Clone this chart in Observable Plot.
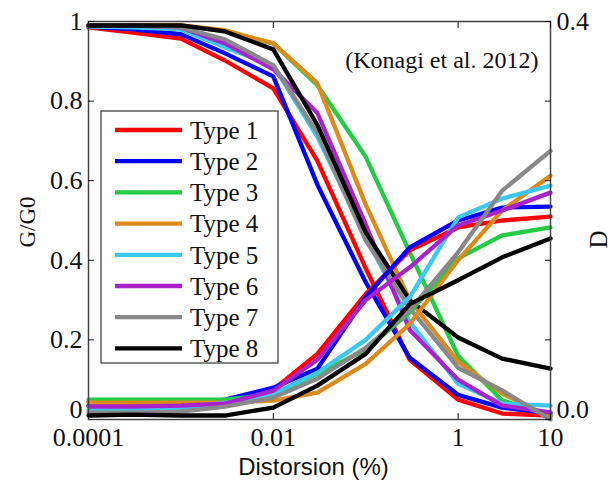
<!DOCTYPE html>
<html><head><meta charset="utf-8">
<script src="https://cdn.jsdelivr.net/npm/d3@7"></script>
<script src="https://cdn.jsdelivr.net/npm/@observablehq/plot@0.6"></script>
<style>
body{margin:0;background:#fff}
#chart{position:relative;width:610px;height:489px}
</style>
</head><body><div id="chart"></div>
<script>
// shear strain (%) sample points
const strain = [0.0001, 0.0003, 0.001, 0.003, 0.01, 0.03, 0.1, 0.3, 1, 3, 10];
const types = ["Type 1","Type 2","Type 3","Type 4","Type 5","Type 6","Type 7","Type 8"];
const colors = ["#ff0000","#0000ff","#22cc44","#dc8a1c","#3cc8f2","#aa22cc","#888888","#000000"];

// G/G0 curves
const g1 = [0.985,0.972,0.957,0.902,0.832,0.65,0.38,0.15,0.05,0.015,0.01];
const g2 = [0.987,0.980,0.968,0.92,0.862,0.59,0.345,0.155,0.062,0.03,0.016];
const g3 = [0.99,0.99,0.99,0.975,0.945,0.84,0.66,0.42,0.16,0.048,0.01];
const g4 = [0.99,0.99,0.99,0.978,0.945,0.845,0.54,0.30,0.145,0.065,0.006];
const g5 = [0.987,0.985,0.98,0.935,0.89,0.71,0.46,0.245,0.09,0.04,0.035];
const g6 = [0.99,0.99,0.985,0.945,0.88,0.77,0.49,0.225,0.10,0.035,0.018];
const g7 = [0.99,0.99,0.985,0.955,0.89,0.72,0.45,0.28,0.13,0.073,0.0];
const g8 = [0.99,0.99,0.99,0.975,0.93,0.74,0.47,0.30,0.206,0.153,0.128];

// damping D curves
const d1 = [0.018,0.018,0.018,0.019,0.030,0.066,0.126,0.170,0.193,0.200,0.204];
const d2 = [0.014,0.014,0.014,0.020,0.032,0.051,0.123,0.173,0.200,0.213,0.214];
const d3 = [0.020,0.020,0.020,0.020,0.025,0.046,0.070,0.108,0.162,0.185,0.193];
const d4 = [0.017,0.017,0.017,0.017,0.019,0.027,0.056,0.096,0.160,0.210,0.245];
const d5 = [0.010,0.010,0.011,0.017,0.026,0.047,0.080,0.123,0.203,0.222,0.235];
const d6 = [0.013,0.013,0.014,0.016,0.029,0.060,0.120,0.153,0.195,0.210,0.228];
const d7 = [0.007,0.007,0.008,0.013,0.022,0.041,0.072,0.110,0.168,0.230,0.270];
const d8 = [0.004,0.005,0.004,0.004,0.012,0.034,0.066,0.116,0.140,0.163,0.182];

const xTicks = [0.0001, 0.01, 1, 10];
const gTicks = [0, 0.2, 0.4, 0.6, 0.8, 1];
const dMax = 0.4;

const gAll = [g1,g2,g3,g4,g5,g6,g7,g8];
const dAll = [d1,d2,d3,d4,d5,d6,d7,d8];
const gRows = [], dRows = [];
types.forEach((t,i)=>strain.forEach((x,j)=>{
  gRows.push({type:t, x, v:gAll[i][j]});
  dRows.push({type:t, x, v:dAll[i][j]});
}));

const serif = "'Liberation Serif','Times New Roman',serif";
const plot = Plot.plot({
  width: 610, height: 489,
  marginLeft: 88, marginRight: 60, marginTop: 21, marginBottom: 70,
  style: {fontFamily: serif, fontSize: "26px", color: "#111", background: "#fff"},
  x: {type: "log", domain: [0.0001, 10]},
  y: {domain: [0, 1]},
  color: {domain: types, range: colors},
  marks: [
    Plot.line(gRows, {x:"x", y:"v", z:"type", stroke:"type", strokeWidth:4.3, strokeLinejoin:"miter"}),
    Plot.line(dRows, {x:"x", y:d=>d.v/dMax, z:"type", stroke:"type", strokeWidth:4.3, strokeLinejoin:"miter"}),
    Plot.frame({stroke:"#444", strokeWidth:1.5}),
    Plot.axisX(xTicks, {anchor:"bottom", tickSize:-6, tickPadding:14, tickFormat:d=>String(d), label:null, fontSize:26}),
    Plot.axisX(xTicks, {anchor:"top", tickSize:-6, tickFormat:()=>"", label:null}),
    Plot.axisY(gTicks.filter(v=>v>0), {anchor:"left", tickSize:-6, tickPadding:12, tickFormat:d=>String(d), label:null, fontSize:26}),
    Plot.axisY([0], {anchor:"left", tickSize:0, tickPadding:6, dy:-10, tickFormat:d=>String(d), label:null, fontSize:26}),
    Plot.axisY(gTicks, {anchor:"right", tickSize:-6, tickPadding:12, tickFormat:d=> d===1 ? (d*dMax).toFixed(1) : "", label:null, fontSize:26}),
    Plot.axisY([0], {anchor:"right", tickSize:0, tickPadding:6, dy:-10, tickFormat:d=>(d*dMax).toFixed(1), label:null, fontSize:26}),
    Plot.text(["(Konagi et al. 2012)"], {frameAnchor:"top-right", dx:-12, dy:29, textAnchor:"end", fontSize:24, fill:"#111"}),
    Plot.text(["G/G0"], {frameAnchor:"middle", dx:-292, dy:27, rotate:-90, textAnchor:"start", fontSize:23, fill:"#111"}),
    Plot.text(["D"], {frameAnchor:"middle", dx:279, dy:28, rotate:-90, textAnchor:"start", fontSize:25, fill:"#111"}),
    Plot.text(["Distorsion (%)"], {frameAnchor:"bottom", dy:55, dx:-6, fontSize:24, fontFamily:"'Liberation Sans',Arial,sans-serif", fill:"#111"})
  ]
});
document.getElementById("chart").appendChild(plot);

// legend box inside the axes (top-left)
const NS = "http://www.w3.org/2000/svg";
function el(tag, attrs, parent){
  const e = document.createElementNS(NS, tag);
  for (const k in attrs) e.setAttribute(k, attrs[k]);
  parent.appendChild(e);
  return e;
}
const lg = el("g", {transform:"translate(101,111)"}, plot);
el("rect", {width:177, height:252, fill:"#fff", stroke:"#333", "stroke-width":1.2}, lg);
types.forEach((t,i)=>{
  const y = 19 + i*31.2;
  el("line", {x1:14, x2:81, y1:y, y2:y, stroke:colors[i], "stroke-width":4.3}, lg);
  const tx = el("text", {x:89, y:y, dy:"0.35em", "text-anchor":"start", "font-size":25, "font-family":serif, fill:"#111"}, lg);
  tx.textContent = t;
});
</script>
</body></html>
